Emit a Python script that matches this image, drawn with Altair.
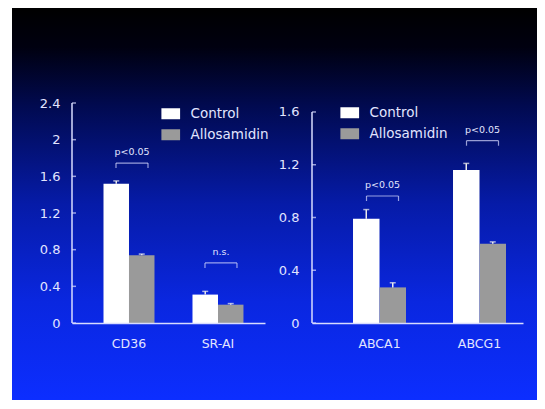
import altair as alt
import pandas as pd

# ---------------- data ----------------
series_names = ["Control", "Allosamidin"]
series_colors = ["#ffffff", "#9a9a9a"]

left_categories = ["CD36", "SR-AI"]
left_control = [1.52, 0.31]
left_control_err = [0.03, 0.035]
left_allo = [0.74, 0.20]
left_allo_err = [0.012, 0.012]
left_sig_labels = ["p<0.05", "n.s."]
left_sig_y = [1.745, 0.655]
left_ticks = [0, 0.4, 0.8, 1.2, 1.6, 2, 2.4]

right_categories = ["ABCA1", "ABCG1"]
right_control = [0.79, 1.16]
right_control_err = [0.07, 0.05]
right_allo = [0.27, 0.60]
right_allo_err = [0.035, 0.015]
right_sig_labels = ["p<0.05", "p<0.05"]
right_sig_y = [0.963, 1.382]
right_ticks = [0, 0.4, 0.8, 1.2, 1.6]

FONT = "DejaVu Sans"
TXT = "#e2e5ff"
LINE = "#d8dcff"
H = 220


def bar_df(cats, ctrl, ctrl_err, allo, allo_err):
    rows = []
    for c, v, e in zip(cats, ctrl, ctrl_err):
        rows.append({"cat": c, "series": "Control", "value": v, "upper": v + e})
    for c, v, e in zip(cats, allo, allo_err):
        rows.append({"cat": c, "series": "Allosamidin", "value": v, "upper": v + e})
    return pd.DataFrame(rows)


def panel(cats, ctrl, ctrl_err, allo, allo_err, sig_labels, sig_y, ticks,
          width, ymax, pad_inner, pad_outer, align, label_pad, legend_x, legend_y,
          with_background=False):
    df = bar_df(cats, ctrl, ctrl_err, allo, allo_err)
    sig = pd.DataFrame({"cat": cats, "label": sig_labels, "y": sig_y})
    tick_df = pd.DataFrame({"t": ticks})
    axis_df = pd.DataFrame({"y0": [0], "y1": [max(ticks)]})

    xscale = alt.Scale(domain=cats, paddingInner=pad_inner, paddingOuter=pad_outer, align=align)
    yscale = alt.Scale(domain=[0, ymax], nice=False, zero=True)
    yaxis = alt.Axis(values=ticks, format="~g", domain=False, ticks=False, tickSize=0,
                     grid=False, title=None, labelPadding=label_pad, labelOverlap=False,
                     labelFont=FONT, labelFontSize=13, labelColor=TXT, zindex=1)
    x_enc = alt.X("cat:N", scale=xscale, sort=cats,
                  axis=alt.Axis(title=None, labelAngle=0, ticks=False, tickSize=0,
                                domainColor=LINE, domainWidth=1.5, labelPadding=14,
                                labelFont=FONT, labelFontSize=12.5, labelColor=TXT, zindex=1))
    xo_enc = alt.XOffset("series:N", sort=series_names,
                         scale=alt.Scale(domain=series_names, paddingInner=0, paddingOuter=0))

    bars = alt.Chart(df).mark_bar().encode(
        x=x_enc,
        xOffset=xo_enc,
        y=alt.Y("value:Q", scale=yscale, axis=yaxis),
        color=alt.Color("series:N", sort=series_names,
                        scale=alt.Scale(domain=series_names, range=series_colors),
                        legend=alt.Legend(orient="none", legendX=legend_x, legendY=legend_y,
                                          title=None, symbolType="M-1.7,-1H1.7V1H-1.7Z",
                                          symbolSize=121, symbolStrokeWidth=0,
                                          labelOffset=13, rowPadding=6, labelFont=FONT,
                                          labelFontSize=13.5, labelColor=TXT)),
    )

    err = alt.Chart(df).mark_rule(color="#ececec", strokeWidth=1.5).encode(
        x=alt.X("cat:N", sort=cats), xOffset=alt.XOffset("series:N", sort=series_names),
        y=alt.Y("value:Q", axis=yaxis), y2="upper:Q",
    )
    cap = alt.Chart(df).mark_tick(color="#ececec", orient="horizontal", size=6, thickness=1.5).encode(
        x=alt.X("cat:N", sort=cats), xOffset=alt.XOffset("series:N", sort=series_names),
        y=alt.Y("upper:Q", axis=yaxis),
    )

    br_h = alt.Chart(sig).mark_tick(color=LINE, orient="horizontal", size=32, thickness=1.2,
                                    xOffset=3).encode(x=alt.X("cat:N", sort=cats), y=alt.Y("y:Q", axis=yaxis))
    br_l = alt.Chart(sig).mark_tick(color=LINE, orient="vertical", size=5, thickness=1.2,
                                    xOffset=-13, yOffset=2.5).encode(x=alt.X("cat:N", sort=cats), y=alt.Y("y:Q", axis=yaxis))
    br_r = alt.Chart(sig).mark_tick(color=LINE, orient="vertical", size=5, thickness=1.2,
                                    xOffset=19, yOffset=2.5).encode(x=alt.X("cat:N", sort=cats), y=alt.Y("y:Q", axis=yaxis))
    br_t = alt.Chart(sig).mark_text(color=TXT, font=FONT, fontSize=9.5, dy=-11, xOffset=3).encode(
        x=alt.X("cat:N", sort=cats), y=alt.Y("y:Q", axis=yaxis), text="label:N")

    yaxis_line = alt.Chart(axis_df).mark_rule(color=LINE, strokeWidth=1.5).encode(
        x=alt.value(0), y=alt.Y("y0:Q", axis=yaxis), y2="y1:Q")
    yaxis_ticks = alt.Chart(tick_df).mark_tick(color=LINE, orient="horizontal", size=4,
                                               thickness=1.5).encode(x=alt.value(2), y=alt.Y("t:Q", axis=yaxis))

    layers = []
    if with_background:
        grad = alt.LinearGradient(
            gradient="linear",
            stops=[
                alt.GradientStop(color="#000000", offset=0),
                alt.GradientStop(color="#000010", offset=0.1),
                alt.GradientStop(color="#010a50", offset=0.25),
                alt.GradientStop(color="#061ba8", offset=0.5),
                alt.GradientStop(color="#0a27e0", offset=0.75),
                alt.GradientStop(color="#0c2eff", offset=1),
            ],
            x1=0, x2=0, y1=0, y2=1,
        )
        bg = alt.Chart(pd.DataFrame({"k": [0]})).mark_rect(fill=grad, strokeWidth=0).encode(
            x=alt.value(-60), x2=alt.value(465), y=alt.value(-95), y2=alt.value(297))
        layers.append(bg)
    layers += [bars, err, cap, br_h, br_l, br_r, br_t, yaxis_line, yaxis_ticks]
    return alt.layer(*layers).properties(width=width, height=H)


left = panel(left_categories, left_control, left_control_err, left_allo, left_allo_err,
             left_sig_labels, left_sig_y, left_ticks,
             width=193, ymax=2.4, pad_inner=0.427, pad_outer=0.298, align=0.594,
             label_pad=12, legend_x=92, legend_y=4, with_background=True)
right = panel(right_categories, right_control, right_control_err, right_allo, right_allo_err,
              right_sig_labels, right_sig_y, right_ticks,
              width=211, ymax=1.668, pad_inner=0.47, pad_outer=0.29, align=0.707,
              label_pad=13, legend_x=31, legend_y=3)

chart = alt.hconcat(left, right, spacing=47, bounds="flush").resolve_scale(
    x="independent", y="independent", color="independent", xOffset="independent"
).resolve_legend(color="independent").properties(
    background="white",
    padding={"left": 4, "top": 0, "right": 0, "bottom": 0},
).configure_view(stroke=None).configure_axisY(labelOverlap=False)

chart.save("out.html", embed_options={"renderer": "svg", "actions": False})
